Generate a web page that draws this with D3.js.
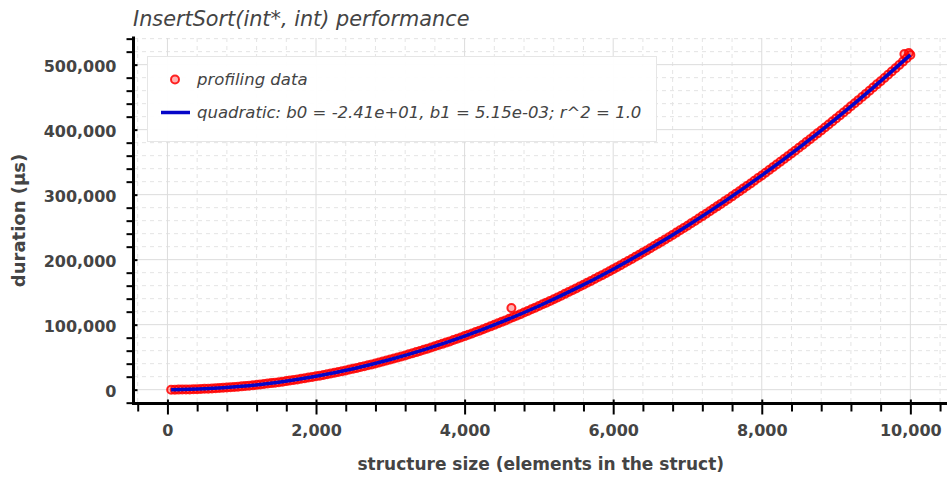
<!DOCTYPE html>
<html><head><meta charset="utf-8">
<script src="https://cdn.jsdelivr.net/npm/d3@7/dist/d3.min.js"></script>
<style>body{margin:0;background:#fff}svg{display:block}</style>
</head><body>
<svg id="chart" width="947" height="477"></svg>
<script>
// ---- data ----
const sizes = [50,100,150,200,250,300,350,400,450,500,550,600,650,700,750,800,850,900,950,1000,
1050,1100,1150,1200,1250,1300,1350,1400,1450,1500,1550,1600,1650,1700,1750,1800,1850,1900,1950,2000,
2050,2100,2150,2200,2250,2300,2350,2400,2450,2500,2550,2600,2650,2700,2750,2800,2850,2900,2950,3000,
3050,3100,3150,3200,3250,3300,3350,3400,3450,3500,3550,3600,3650,3700,3750,3800,3850,3900,3950,4000,
4050,4100,4150,4200,4250,4300,4350,4400,4450,4500,4550,4600,4650,4700,4750,4800,4850,4900,4950,5000,
5050,5100,5150,5200,5250,5300,5350,5400,5450,5500,5550,5600,5650,5700,5750,5800,5850,5900,5950,6000,
6050,6100,6150,6200,6250,6300,6350,6400,6450,6500,6550,6600,6650,6700,6750,6800,6850,6900,6950,7000,
7050,7100,7150,7200,7250,7300,7350,7400,7450,7500,7550,7600,7650,7700,7750,7800,7850,7900,7950,8000,
8050,8100,8150,8200,8250,8300,8350,8400,8450,8500,8550,8600,8650,8700,8750,8800,8850,8900,8950,9000,
9050,9100,9150,9200,9250,9300,9350,9400,9450,9500,9550,9600,9650,9700,9750,9800,9850,9900,9950,10000,
4630,9920,9980];
const durations = [0,0,100,200,300,400,600,800,1000,1300,1500,1800,2200,2500,2900,3300,3700,4100,4600,5100,
5700,6200,6800,7400,8000,8700,9400,10100,10800,11600,12300,13200,14000,14900,15700,16700,17600,18600,19600,20600,
21600,22700,23800,24900,26000,27200,28400,29600,30900,32200,33500,34800,36100,37500,38900,40400,41800,43300,44800,46300,
47900,49500,51100,52700,54400,56100,57800,59500,61300,63100,64900,66700,68600,70500,72400,74300,76300,78300,80300,82400,
84400,86500,88700,90800,93000,95200,97400,99700,102000,104300,106600,109000,111300,113700,116200,118600,121100,123600,126200,128700,
131300,133900,136600,139200,141900,144600,147400,150200,152900,155800,158600,161500,164400,167300,170200,173200,176200,179200,182300,185400,
188500,191600,194800,197900,201100,204400,207600,210900,214200,217600,220900,224300,227700,231200,234600,238100,241600,245200,248700,252300,
255900,259600,263300,267000,270700,274400,278200,282000,285800,289700,293500,297400,301400,305300,309300,313300,317300,321400,325500,329600,
333700,337900,342100,346300,350500,354800,359000,363400,367700,372100,376500,380900,385300,389800,394300,398800,403300,407900,412500,417100,
421800,426400,431100,435900,440600,445400,450200,455000,459900,464800,469700,474600,479600,484500,489500,494600,499600,504700,509800,515000,
125600,516500,518000];
const fitSizes = [50,500,1000,1500,2000,2500,3000,3500,4000,4500,5000,5500,6000,6500,7000,7500,8000,8500,9000,9500,10000];
const fitDurations = [-11,1264,5126,11564,20576,32164,46326,63064,82376,104264,128726,155764,185376,217564,252326,289664,329576,372064,417126,464764,514976];
const xTickValues = [0,2000,4000,6000,8000,10000];
const yTickValues = [0,100000,200000,300000,400000,500000];
const titleText = "InsertSort(int*, int) performance";
const xLabel = "structure size (elements in the struct)";
const yLabel = "duration (µs)";
const legendLabels = ["profiling data", "quadratic: b0 = -2.41e+01, b1 = 5.15e-03; r^2 = 1.0"];

// ---- layout ----
const svg = d3.select("#chart");
const L = 134, R = 947.5, T = 38, B = 403;
const x = d3.scaleLinear().domain([-450, 10500]).range([L, R]);
const y = d3.scaleLinear().domain([-20500, 541000]).range([B, T]);
const fmt = d3.format(",");
const textColor = "#444";
const markerStyle = sel => sel.attr("r", 4)
  .attr("fill", "#ff0000").attr("fill-opacity", 0.3)
  .attr("stroke", "#ff0000").attr("stroke-opacity", 0.85).attr("stroke-width", 2);

const xMinor = d3.range(-400, 10500, 400).filter(v => v % 2000 !== 0);
const yMinor = d3.range(-20000, 541000, 20000).filter(v => v % 100000 !== 0);

// grid
const grid = svg.append("g");
grid.selectAll(".mx").data(xMinor).join("line")
  .attr("x1", d => x(d)).attr("x2", d => x(d)).attr("y1", T).attr("y2", B)
  .attr("stroke", "#e4e4e4").attr("stroke-dasharray", "4,4");
grid.selectAll(".my").data(yMinor).join("line")
  .attr("x1", L).attr("x2", R).attr("y1", d => y(d)).attr("y2", d => y(d))
  .attr("stroke", "#e4e4e4").attr("stroke-dasharray", "4,4");
grid.selectAll(".Mx").data(xTickValues).join("line")
  .attr("x1", d => x(d)).attr("x2", d => x(d)).attr("y1", T).attr("y2", B)
  .attr("stroke", "#dcdcdc");
grid.selectAll(".My").data(yTickValues).join("line")
  .attr("x1", L).attr("x2", R).attr("y1", d => y(d)).attr("y2", d => y(d))
  .attr("stroke", "#dcdcdc");

// data
const pts = sizes.map((s, i) => [s, durations[i]]);
svg.append("g").selectAll("circle").data(pts).join("circle")
  .attr("cx", d => x(d[0])).attr("cy", d => y(d[1])).call(markerStyle);

const fit = fitSizes.map((s, i) => [s, fitDurations[i]]);
svg.append("path").datum(fit)
  .attr("d", d3.line().x(d => x(d[0])).y(d => y(d[1])).curve(d3.curveNatural))
  .attr("fill", "none").attr("stroke", "#0505c8").attr("stroke-width", 3.5);

// axes
const xAxisY = 403.5, yAxisX = 133.5;
const xAx = svg.append("g").attr("transform", `translate(0,${xAxisY})`);
xAx.call(d3.axisBottom(x).tickValues(xMinor).tickSize(8).tickFormat("").tickSizeOuter(0));
xAx.call(g => g.select(".domain").remove());
const xAxMaj = svg.append("g").attr("transform", `translate(0,${xAxisY})`)
  .call(d3.axisBottom(x).tickValues(xTickValues).tickSize(11).tickPadding(10).tickFormat(fmt).tickSizeOuter(0));
xAxMaj.select(".domain").remove();
xAxMaj.selectAll(".tick line").attr("y1", -4);

const yAx = svg.append("g").attr("transform", `translate(${yAxisX},0)`);
yAx.call(d3.axisLeft(y).tickValues(yMinor).tickSize(7).tickFormat("").tickSizeOuter(0));
yAx.call(g => g.select(".domain").remove());
const yAxMaj = svg.append("g").attr("transform", `translate(${yAxisX},0)`)
  .call(d3.axisLeft(y).tickValues(yTickValues).tickSize(11).tickPadding(6).tickFormat(fmt).tickSizeOuter(0));
yAxMaj.select(".domain").remove();
yAxMaj.selectAll(".tick line").attr("x2", 4);
yAxMaj.selectAll(".tick text").attr("dy", "0.4em");

svg.selectAll(".tick line").attr("stroke", "#000").attr("stroke-width", 2);
svg.selectAll(".tick text").attr("fill", textColor)
  .style("font-family", "'DejaVu Sans', sans-serif").style("font-weight", "bold").style("font-size", "16px");

svg.append("line").attr("x1", 132).attr("x2", 947).attr("y1", xAxisY).attr("y2", xAxisY)
  .attr("stroke", "#000").attr("stroke-width", 3);
svg.append("line").attr("x1", yAxisX).attr("x2", yAxisX).attr("y1", 36.5).attr("y2", 405)
  .attr("stroke", "#000").attr("stroke-width", 3);

// titles
svg.append("text").attr("x", 133).attr("y", 26).text(titleText)
  .attr("fill", textColor).style("font-family", "'DejaVu Sans', sans-serif")
  .style("font-style", "italic").style("font-size", "20.8px");
svg.append("text").attr("x", (L + R) / 2).attr("y", 470).attr("text-anchor", "middle").text(xLabel)
  .attr("fill", textColor).style("font-family", "'DejaVu Sans', sans-serif")
  .style("font-weight", "bold").style("font-size", "17px");
svg.append("text").attr("transform", `translate(25,${(T + B) / 2}) rotate(-90)`)
  .attr("text-anchor", "middle").text(yLabel)
  .attr("fill", textColor).style("font-family", "'DejaVu Sans', sans-serif")
  .style("font-weight", "bold").style("font-size", "18px");

// legend
const lg = svg.append("g");
lg.append("rect").attr("x", 147.5).attr("y", 56.5).attr("width", 509).attr("height", 85)
  .attr("fill", "#fff").attr("fill-opacity", 0.95).attr("stroke", "#e6e6e6");
lg.append("circle").attr("cx", 175).attr("cy", 79.5).call(markerStyle);
lg.append("line").attr("x1", 161).attr("x2", 190).attr("y1", 112.5).attr("y2", 112.5)
  .attr("stroke", "#0505c8").attr("stroke-width", 3.5);
lg.selectAll("text").data(legendLabels).join("text")
  .attr("x", 197).attr("y", (d, i) => i === 0 ? 85 : 117.5).text(d => d)
  .attr("fill", textColor).style("font-family", "'DejaVu Sans', sans-serif")
  .style("font-style", "italic").style("font-size", "16.5px");
</script>
</body></html>
